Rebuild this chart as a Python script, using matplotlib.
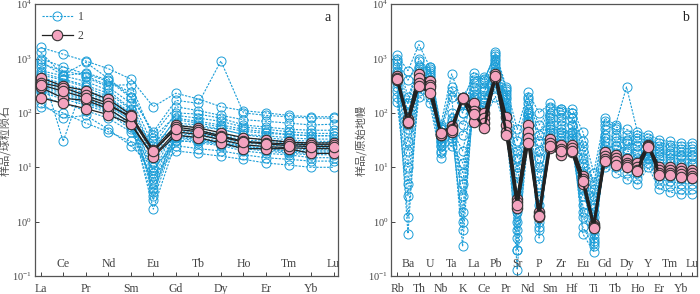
import numpy as np
import matplotlib.pyplot as plt

plt.rcParams['font.family'] = ['Liberation Serif', 'DejaVu Serif']
plt.rcParams['mathtext.fontset'] = 'stix'

ree = ['La', 'Ce', 'Pr', 'Nd', 'Sm', 'Eu', 'Gd', 'Tb', 'Dy', 'Ho', 'Er', 'Tm', 'Yb', 'Lu']
spider = ['Rb', 'Ba', 'Th', 'U', 'Nb', 'Ta', 'K', 'La', 'Ce', 'Pb', 'Pr', 'Sr', 'Nd', 'P',
          'Sm', 'Zr', 'Hf', 'Eu', 'Ti', 'Gd', 'Tb', 'Dy', 'Ho', 'Y', 'Er', 'Tm', 'Yb', 'Lu']

# group 1 (blue) - chondrite normalised REE
ree_g1 = [
    [1600, 1200, 900, 650, 420, 130, 230, 180, 130, 110, 100, 90, 85, 85],
    [1300, 500, 850, 430, 200, 45, 170, 150, 900, 100, 90, 85, 80, 80],
    [900, 480, 550, 400, 190, 25, 100, 95, 80, 60, 55, 50, 48, 48],
    [700, 30, 450, 300, 150, 20, 80, 70, 60, 50, 45, 40, 38, 38],
    [600, 480, 380, 260, 120, 3, 60, 55, 50, 40, 35, 32, 30, 30],
    [500, 400, 300, 200, 100, 15, 65, 60, 50, 40, 38, 35, 33, 33],
    [450, 350, 260, 190, 95, 8, 55, 48, 40, 35, 32, 30, 28, 29],
    [400, 300, 230, 170, 80, 1.7, 30, 30, 28, 25, 22, 20, 20, 20],
    [350, 260, 200, 150, 70, 30, 50, 45, 38, 32, 30, 28, 27, 27],
    [300, 230, 170, 125, 60, 12, 45, 40, 35, 30, 27, 25, 24, 24],
    [250, 200, 150, 110, 55, 5, 40, 35, 30, 26, 24, 22, 21, 21],
    [200, 150, 110, 80, 45, 18, 35, 30, 26, 22, 20, 18, 17, 17],
    [150, 80, 90, 50, 25, 10, 25, 22, 20, 17, 15, 14, 13, 13],
    [130, 100, 65, 45, 30, 7, 20, 18, 16, 14, 12, 11, 10, 10],
    [1000, 700, 520, 380, 240, 40, 130, 110, 90, 75, 70, 65, 60, 62],
    [550, 420, 320, 230, 115, 22, 75, 65, 55, 46, 42, 40, 38, 38],
    [800, 600, 480, 320, 330, 35, 90, 80, 70, 55, 50, 45, 42, 42],
    [380, 280, 210, 160, 85, 4, 42, 38, 33, 28, 26, 24, 23, 23],
    [280, 210, 160, 115, 65, 2.5, 38, 33, 28, 24, 22, 20, 19, 19],
    [240, 180, 140, 100, 50, 9, 32, 28, 25, 20, 18, 17, 15, 15],
    [420, 330, 250, 180, 90, 6, 48, 42, 36, 30, 28, 26, 25, 25],
    [320, 240, 180, 130, 75, 3.5, 36, 32, 27, 23, 21, 19, 18, 18],
]
# group 2 (pink)
ree_g2 = [
    [445, 310, 257, 178, 93, 21, 59, 53, 43, 35, 32, 29, 28, 28],
    [360, 293, 209, 150, 80, 19, 55, 48, 38, 30, 28, 27, 26, 26],
    [295, 186, 170, 120, 65, 16, 45, 40, 32, 26, 24, 23, 22, 22],
    [190, 150, 120, 93, 62, 15.5, 39, 35, 28, 22, 22, 22, 18, 18],
    [330, 250, 190, 135, 88, 20, 50, 45, 36, 29, 27, 25, 24, 24],
]

# group 1 (blue) - primitive mantle normalised trace elements
tr_g1 = [
    [1150, 600, 1800, 700, 60, 520, 150, 550, 400, 1300, 300, 50, 240, 100, 150, 120, 120, 45, 8, 80, 60, 300, 45, 40, 32, 30, 28, 28],
    [800, 150, 700, 600, 50, 300, 100, 450, 420, 1200, 250, 30, 180, 60, 120, 110, 100, 30, 5, 60, 50, 40, 35, 30, 28, 26, 25, 25],
    [700, 100, 600, 500, 45, 200, 1.5, 300, 350, 900, 200, 5, 150, 30, 100, 80, 80, 20, 3, 40, 35, 30, 25, 22, 20, 18, 17, 17],
    [600, 10, 550, 450, 35, 100, 60, 250, 300, 700, 180, 0.3, 120, 10, 80, 60, 60, 3, 1.5, 30, 25, 22, 20, 20, 16, 15, 14, 14],
    [500, 0.6, 450, 400, 30, 80, 0.35, 200, 250, 600, 150, 0.13, 100, 0.5, 60, 50, 45, 0.6, 0.28, 25, 22, 18, 15, 18, 12, 12, 11, 11],
    [400, 30, 400, 350, 25, 60, 0.7, 180, 200, 500, 130, 1, 80, 5, 55, 45, 40, 10, 1, 20, 18, 15, 13, 17, 10, 10, 9, 9],
    [300, 5, 350, 300, 25, 50, 20, 150, 150, 400, 100, 0.5, 70, 2, 45, 40, 35, 2, 0.5, 18, 15, 12, 10, 15, 8, 8, 7, 7],
    [250, 1.2, 300, 250, 20, 40, 3, 120, 120, 350, 80, 3, 50, 0.8, 35, 30, 30, 5, 0.4, 15, 12, 10, 8, 14, 6, 5.5, 5, 5],
    [200, 20, 250, 200, 18, 30, 8, 100, 100, 300, 60, 10, 40, 8, 30, 25, 25, 1.2, 0.6, 12, 10, 8, 6, 12, 5, 4.5, 4, 4],
    [160, 3, 200, 150, 15, 25, 12, 80, 80, 200, 50, 0.3, 35, 3, 25, 20, 20, 8, 2, 10, 8, 6, 5, 10, 4, 3.5, 3.2, 3.2],
    [900, 400, 900, 650, 55, 40, 200, 400, 450, 1000, 280, 8, 200, 40, 130, 120, 100, 25, 4, 70, 55, 50, 40, 35, 25, 24, 22, 22],
    [550, 50, 500, 300, 40, 35, 40, 220, 250, 800, 120, 2, 90, 15, 70, 70, 60, 15, 1.2, 35, 30, 28, 25, 25, 18, 17, 16, 16],
    [350, 150, 1000, 550, 30, 70, 5, 160, 160, 1100, 90, 20, 60, 1.5, 50, 45, 45, 0.8, 0.35, 22, 25, 20, 18, 20, 14, 13, 12, 12],
    [1000, 200, 650, 700, 50, 250, 100, 350, 280, 600, 220, 15, 100, 20, 90, 90, 80, 12, 2.5, 50, 40, 32, 30, 28, 22, 20, 19, 19],
    [450, 80, 480, 380, 35, 60, 150, 200, 180, 450, 100, 1.5, 70, 1, 40, 35, 35, 4, 0.7, 20, 17, 14, 12, 20, 10, 9, 8.5, 8.5],
    [380, 60, 380, 280, 28, 45, 1, 140, 130, 380, 70, 0.7, 55, 0.7, 30, 28, 26, 1.5, 0.45, 16, 13, 11, 9, 16, 7, 6.5, 6, 6],
]
# group 2 (pink)
tr_g2 = [
    [480, 78, 520, 390, 43, 57, 190, 150, 100, 520, 83, 2.6, 60, 1.5, 33, 26, 26, 7.0, 0.9, 19, 17, 14, 12, 26, 10, 10, 9.5, 9],
    [430, 70, 445, 330, 40, 50, 185, 110, 80, 450, 60, 2.3, 45, 1.3, 28, 22, 23, 6.0, 0.85, 16, 15, 12, 10, 25, 9, 9, 8.5, 8],
    [400, 65, 360, 300, 39, 45, 180, 68, 65, 430, 45, 1.8, 35, 1.2, 23, 17, 19, 5.0, 0.8, 14, 13, 11, 9, 25, 8, 8, 7.5, 7],
    [420, 68, 315, 230, 42, 48, 188, 95, 53, 480, 39, 2.0, 28, 1.25, 25, 20, 20, 5.5, 0.78, 13, 11, 10, 8.5, 24, 7.2, 7.2, 6.5, 6.3],
]

blue = '#1c9ed8'
pink = '#f4a3bf'
grey = '#444444'

fig = plt.figure(figsize=(7, 2.94), dpi=100)
ax1 = fig.add_axes([0.05, 0.061, 0.433, 0.925])
ax2 = fig.add_axes([0.5586, 0.061, 0.4371, 0.925])


def draw(ax, names, g1, g2, lw2, lab, ylab):
    x = np.arange(len(names))
    for i, row in enumerate(g1):
        ax.plot(x, row, ls=(0, (2, 1.2)), color=blue, lw=0.8, marker='o', ms=6.5,
                mfc='none', mec=blue, mew=0.7, label='1' if i == 0 else None, zorder=2)
    for i, row in enumerate(g2):
        ax.plot(x, row, '-', color='#222222', lw=lw2, marker='o', ms=7.5,
                mfc=pink, mec='#333333', mew=0.8, label='2' if i == 0 else None, zorder=3)
    ax.set_yscale('log')
    ax.set_ylim(0.1, 1e4)
    ax.set_xlim(-0.55, len(names) - 0.55)
    ax.set_xticks(x)
    ax.set_xticklabels([n if i % 2 == 0 else '' for i, n in enumerate(names)])
    for i, n in enumerate(names):
        if i % 2 == 1:
            ax.text(i, 0.043, n, transform=ax.get_xaxis_transform(), ha='center',
                    va='center', fontsize=8.5, color=grey)
    ax.yaxis.set_major_locator(plt.LogLocator(base=10, numticks=10))
    ax.yaxis.set_minor_locator(plt.NullLocator())
    ax.tick_params(direction='in', length=3, width=0.7, labelsize=8.5, colors=grey, pad=3)
    ax.tick_params(axis='y', labelsize=7.5, pad=2)
    ax.tick_params(axis='x', pad=5)
    for s in ax.spines.values():
        s.set_color('#555555')
        s.set_linewidth(0.9)
    ax.text(0.975, 0.95, lab, transform=ax.transAxes, ha='right', va='center',
            fontsize=10, color='#222222')
    ax.set_ylabel(ylab, family=['Noto Sans CJK SC'], fontsize=8, color='#555555', labelpad=1)


draw(ax1, ree, ree_g1, ree_g2, 0.9, 'a', '样品/球粒陨石')
draw(ax2, spider, tr_g1, tr_g2, 1.6, 'b', '样品/原始地幔')
ax1.set_xlim(-0.25, 13.2)

ax1.legend(loc='upper left', frameon=False, fontsize=8.5, handlelength=2.6,
           borderaxespad=0.2, labelspacing=0.6, handletextpad=0.4, labelcolor=grey)

fig.savefig('out.png', dpi=100)
